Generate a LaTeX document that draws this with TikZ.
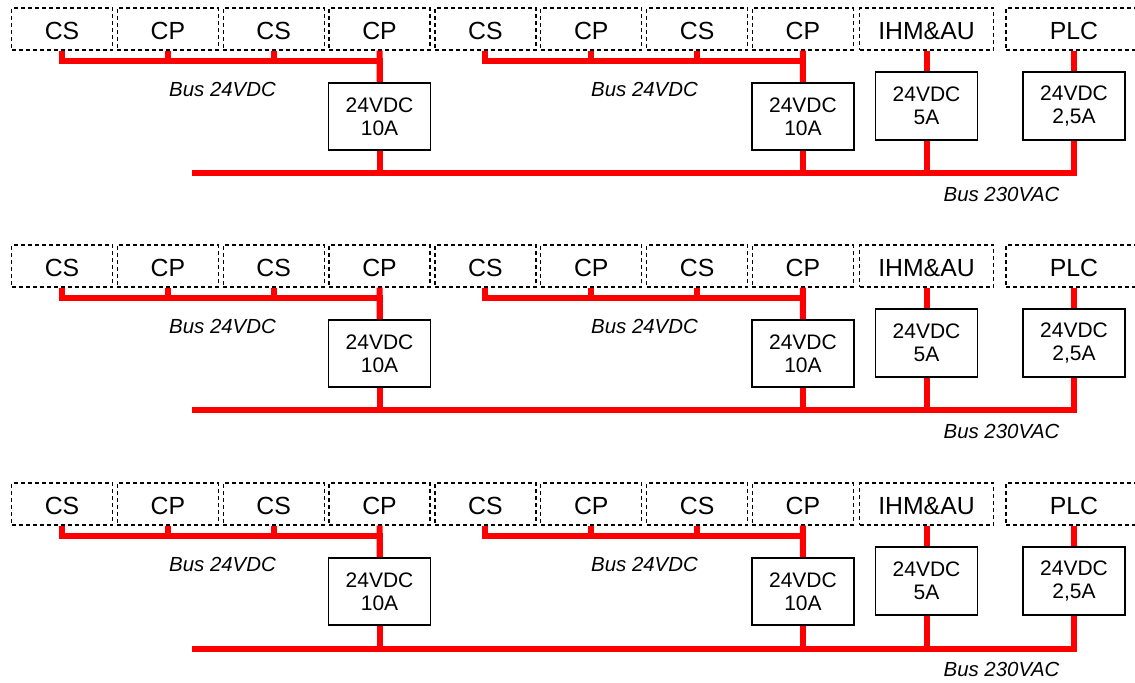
\documentclass[tikz,border=0pt]{standalone}
\usepackage{fontspec}
\setmainfont{Liberation Sans}
\tikzset{
  module/.style={draw, dash pattern=on 2pt off 1.5pt, line width=0.6pt, minimum width=50.5pt, minimum height=21pt, inner sep=0pt, text height=11pt, text depth=0pt, font=\fontsize{12.4}{14}\selectfont},
  psu/.style={draw, line width=0.8pt, align=center, minimum width=51pt, minimum height=33.5pt, inner sep=0pt, font=\fontsize{10.5}{11.6}\selectfont},
  buslabel/.style={font=\fontsize{10.2}{12}\selectfont\itshape},
  bus/.style={draw=red, line width=3pt, line join=miter}
}
\begin{document}
\begin{tikzpicture}[x=0.5pt, y=-0.5pt]
\useasboundingbox (0,0) rectangle (1135,683);
\foreach \r/\dy in {1/0, 2/237, 3/475} {
\begin{scope}[shift={(0,\dy)}]
% modules
\foreach \i/\t in {1/CS, 2/CP, 3/CS, 4/CP, 5/CS, 6/CP, 7/CS, 8/CP}
  \node[module] (m\i-\r) at ({62+105.85*(\i-1)},29) {\t};
\node[module, minimum width=67pt] at (926.5,29) (ihm-\r) {IHM\&AU};
\node[module, minimum width=68pt] at (1074,29) (plc-\r) {PLC};
% power supplies
\node[psu] at (379.55,116.5) (psua-\r) {24VDC\\10A};
\node[psu] at (802.95,116.5) (psub-\r) {24VDC\\10A};
\node[psu, minimum height=34pt] at (926.5,106) (psuihm-\r) {24VDC\\5A};
\node[psu, minimum height=34pt] at (1074,106) (psuplc-\r) {24VDC\\2,5A};
% labels
\node[buslabel] at (222.5,89) (lba-\r) {Bus 24VDC};
\node[buslabel] at (644.5,89) (lbb-\r) {Bus 24VDC};
\node[buslabel] at (1001.5,194) (lbac-\r) {Bus 230VAC};
\coordinate (bar-\r) at (0,61.5);
\coordinate (acw-\r) at (192,173.5);
% 24VDC buses
\draw[bus] (m1-\r.south) -- (m1-\r.south |- bar-\r) -| (psua-\r.north);
\draw[bus] (m2-\r.south) -- (m2-\r.south |- bar-\r);
\draw[bus] (m3-\r.south) -- (m3-\r.south |- bar-\r);
\draw[bus] (m4-\r.south) -- (psua-\r.north);
\draw[bus] (m5-\r.south) -- (m5-\r.south |- bar-\r) -| (psub-\r.north);
\draw[bus] (m6-\r.south) -- (m6-\r.south |- bar-\r);
\draw[bus] (m7-\r.south) -- (m7-\r.south |- bar-\r);
\draw[bus] (m8-\r.south) -- (psub-\r.north);
\draw[bus] (ihm-\r.south) -- (psuihm-\r.north);
\draw[bus] (plc-\r.south) -- (psuplc-\r.north);
% 230VAC bus
\draw[bus] (acw-\r) -| (psuplc-\r.south);
\draw[bus] (psua-\r.south) -- (psua-\r.south |- acw-\r);
\draw[bus] (psub-\r.south) -- (psub-\r.south |- acw-\r);
\draw[bus] (psuihm-\r.south) -- (psuihm-\r.south |- acw-\r);
\end{scope}
}
\end{tikzpicture}
\end{document}
